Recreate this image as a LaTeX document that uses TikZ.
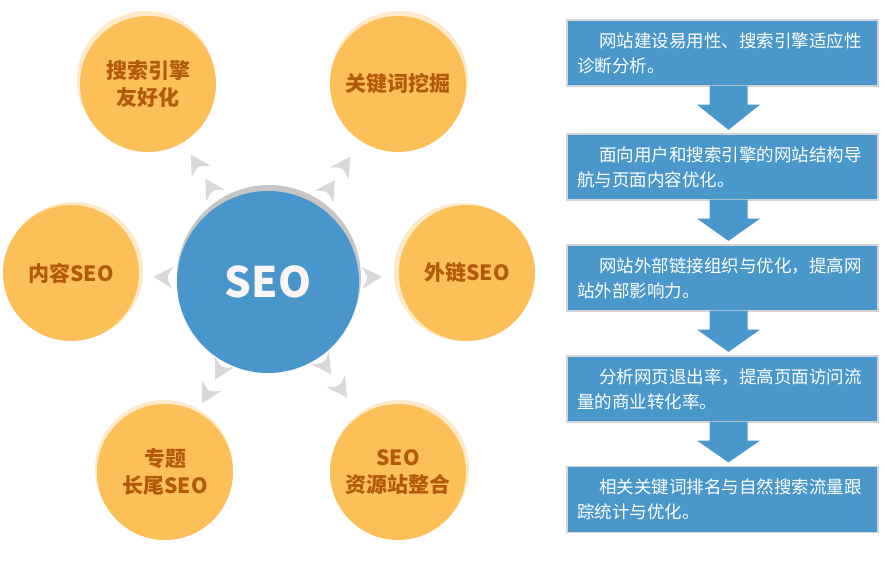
\documentclass[tikz,border=0pt]{standalone}
\usepackage{fontspec}
\setmainfont{Noto Sans CJK SC}
\usetikzlibrary{calc}
\definecolor{seoblue}{HTML}{4896CB}
\definecolor{boxblue}{HTML}{4A97CC}
\definecolor{orng}{HTML}{FDBF57}
\definecolor{paleor}{HTML}{FEE9C8}
\definecolor{txtbrown}{HTML}{B25A0A}
\definecolor{chevgray}{HTML}{D9D9D9}
\definecolor{shadgray}{HTML}{C6C6C6}
\definecolor{boxedge}{HTML}{D4D4D4}
\definecolor{seowhite}{HTML}{FDF4F4}
\newcommand\chevr[3]{%
  \pgfmathsetmacro\ctip{#3+10}\pgfmathsetmacro\cbk{#3-10}\pgfmathsetmacro\cnt{#3-3}%
  \path ($(#1.center)!\ctip pt!(#2.center)$) coordinate (ct)
        ($(#1.center)!\cbk pt!(#2.center)$) coordinate (cb)
        ($(#1.center)!\cnt pt!(#2.center)$) coordinate (cn);
  \fill[chevgray] ($(cb)!11pt!90:(ct)$) -- (ct) -- ($(cb)!11pt!-90:(ct)$)
     .. controls (cn) .. ($(cb)!11pt!90:(ct)$) -- cycle;
}
\begin{document}
\begin{tikzpicture}[x=1pt,y=-1pt,
  sat/.style={circle,fill=orng,minimum size=136pt,inner sep=0pt,align=center,
    text=txtbrown,font=\bfseries\fontsize{21}{27}\selectfont},
  glow/.style={circle,fill=paleor,minimum size=138pt,inner sep=0pt},
  stepbox/.style={rectangle,fill=boxblue,draw=boxedge,line width=1.2pt,
    minimum width=311pt,minimum height=66pt,text width=291pt,inner sep=10pt,
    align=left,text=white,font=\fontsize{17.5}{25}\selectfont},
  flowarrow/.style={fill=boxblue}]
\useasboundingbox (0,0) rectangle (884,570);

% glows
\node[glow] (g1) at (146,80) {};
\node[glow] (g2) at (399,80) {};
\node[glow] (g3) at (74,271) {};
\node[glow] (g4) at (463,272) {};
\node[glow] (g5) at (164,469) {};
\node[glow] (g6) at (400,469) {};

% satellites
\node[sat] (s1) at (148,84) {搜索引擎\\友好化};
\node[sat] (s2) at (398,84) {关键词挖掘};
\node[sat] (s3) at (71,273) {内容SEO};
\node[sat] (s4) at (467,273) {外链SEO};
\node[sat] (s5) at (165,472) {专题\\长尾SEO};
\node[sat] (s6) at (398,472) {SEO\\资源站整合};

% centre
\node[circle,fill=shadgray,minimum size=184pt,inner sep=0pt] (sh) at (269,277) {};
\node[circle,fill=seoblue,minimum size=182pt,inner sep=0pt,text=seowhite,
  font=\bfseries\fontsize{42}{42}\selectfont] (seo) at (268,282) {SEO};

% chevrons
\chevr{seo}{s1}{111}
\chevr{seo}{s1}{139}
\chevr{seo}{s2}{112}
\chevr{seo}{s2}{140}
\chevr{seo}{s3}{105}
\chevr{seo}{s4}{104}
\chevr{seo}{s5}{101}
\chevr{seo}{s5}{128}
\chevr{seo}{s6}{102}
\chevr{seo}{s6}{130}

% flow boxes
\node[stepbox] (b1) at (722.5,53) {\hspace*{22pt}网站建设易用性、搜索引擎适应性\\诊断分析。};
\node[stepbox] (b2) at (722.5,167) {\hspace*{22pt}面向用户和搜索引擎的网站结构导\\航与页面内容优化。};
\node[stepbox] (b3) at (722.5,278) {\hspace*{22pt}网站外部链接组织与优化，提高网\\站外部影响力。};
\node[stepbox] (b4) at (722.5,389) {\hspace*{22pt}分析网页退出率，提高页面访问流\\量的商业转化率。};
\node[stepbox] (b5) at (722.5,499.5) {\hspace*{22pt}相关关键词排名与自然搜索流量跟\\踪统计与优化。};

\foreach \a/\b in {b1/b2,b2/b3,b3/b4,b4/b5}{
  \fill[flowarrow] ($(\a.south)+(-13,-1)$) -- ($(\a.south)+(-13,18)$)
    -- ($(\a.south)+(-25.5,18)$) -- ($(\b.north)+(6,-3.5)$)
    -- ($(\a.south)+(37.5,18)$) -- ($(\a.south)+(25,18)$)
    -- ($(\a.south)+(25,-1)$) -- cycle;
}
\end{tikzpicture}
\end{document}
